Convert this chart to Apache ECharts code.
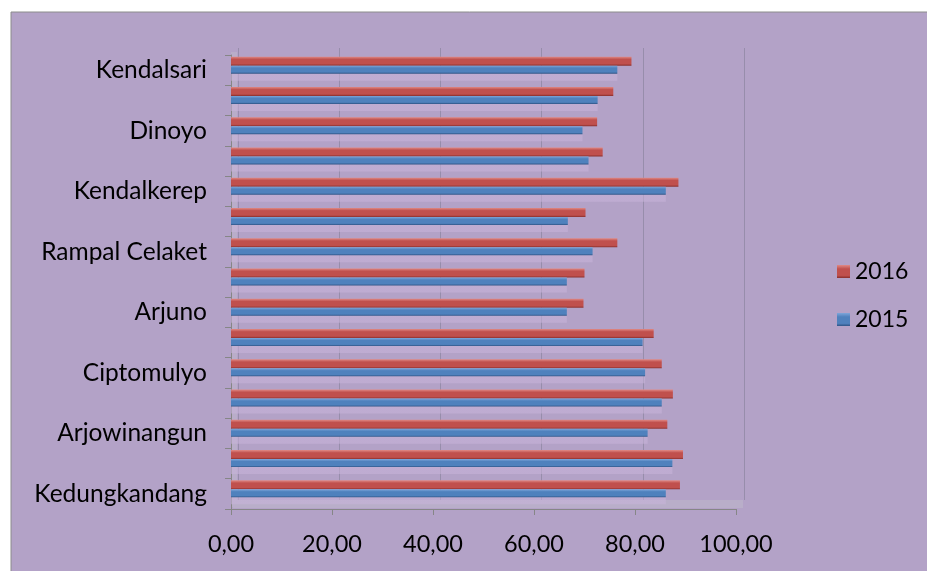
<!DOCTYPE html>
<html>
<head>
<meta charset="utf-8">
<script src="https://cdn.jsdelivr.net/npm/echarts@6/dist/echarts.min.js"></script>
<style>
  html, body { margin: 0; padding: 0; background: #ffffff; }
  #chart { width: 927px; height: 571px; }
</style>
</head>
<body>
<div id="chart"></div>
<script>
// Puskesmas, bottom to top
const categories = [
  'Kedungkandang', 'Gribig', 'Arjowinangun', 'Janti', 'Ciptomulyo',
  'Mulyorejo', 'Arjuno', 'Bareng', 'Rampal Celaket', 'Cisadea',
  'Kendalkerep', 'Pandanwangi', 'Dinoyo', 'Mojolangu', 'Kendalsari'
];
const values2015 = [86.1, 87.4, 82.5, 85.3, 82.0, 81.5, 66.5, 66.5, 71.6, 66.7, 86.1, 70.8, 69.6, 72.6, 76.5];
const values2016 = [88.9, 89.5, 86.4, 87.5, 85.3, 83.7, 69.8, 70.0, 76.5, 70.2, 88.6, 73.6, 72.5, 75.7, 79.3];
const seriesNames = ['2016', '2015'];
const xTicks = { min: 0, max: 100, interval: 20 };

const FONT = 'Lato, "Open Sans", sans-serif';

function shade(top, mid, bottom) {
  return new echarts.graphic.LinearGradient(0, 0, 0, 1, [
    { offset: 0, color: top },
    { offset: 0.3, color: mid },
    { offset: 0.8, color: mid },
    { offset: 1, color: bottom }
  ]);
}

const chart = echarts.init(document.getElementById('chart'), null, { renderer: 'canvas' });

chart.setOption({
  backgroundColor: '#ffffff',
  animation: false,
  graphic: [{
    type: 'rect', z: -10, silent: true,
    shape: { x: 11, y: 12, width: 940, height: 600 },
    style: { fill: '#B3A2C7', stroke: '#8c8c8c', lineWidth: 1 }
  }],
  legend: {
    orient: 'vertical',
    left: 832, top: 254,
    itemWidth: 13, itemHeight: 13, itemGap: 23,
    data: seriesNames,
    icon: 'rect',
    textStyle: { fontFamily: FONT, fontSize: 23, color: '#000', lineHeight: 25 }
  },
  grid: [
    // front axes
    { left: 231, right: 191, top: 55, bottom: 62 },
    // bars, lifted slightly for the depth effect
    { left: 231, right: 191, top: 50, bottom: 67 },
    // back wall with gridlines
    { left: 238, right: 183, top: 48, bottom: 71 },
    // side wall
    { left: 231, width: 6, top: 52, bottom: 64, show: true, backgroundColor: '#b9adc9', borderWidth: 0 },
    // floor
    { left: 233, right: 184, top: 500, bottom: 63, show: true, backgroundColor: '#b9aec9', borderWidth: 0 }
  ],
  xAxis: [
    {
      gridIndex: 0, type: 'value', min: xTicks.min, max: xTicks.max, interval: xTicks.interval,
      axisLine: { show: true, lineStyle: { color: '#868686' } },
      axisTick: { show: true, length: 6, lineStyle: { color: '#868686' } },
      splitLine: { show: false },
      axisLabel: {
        margin: 23, color: '#000', fontFamily: FONT, fontSize: 23.5,
        formatter: v => v.toFixed(2).replace('.', ',')
      }
    },
    { gridIndex: 1, type: 'value', min: xTicks.min, max: xTicks.max, interval: xTicks.interval, show: false },
    {
      gridIndex: 2, type: 'value', min: xTicks.min, max: xTicks.max, interval: xTicks.interval,
      axisLine: { show: false }, axisTick: { show: false }, axisLabel: { show: false },
      splitLine: { show: true, lineStyle: { color: '#978dab', width: 1 } }
    },
    { gridIndex: 3, type: 'value', show: false },
    { gridIndex: 4, type: 'value', show: false }
  ],
  yAxis: [
    {
      gridIndex: 0, type: 'category', data: categories,
      axisLine: { show: true, lineStyle: { color: '#868686' } },
      axisTick: { show: true, length: 6, interval: 0, lineStyle: { color: '#868686' } },
      axisLabel: { interval: 1, margin: 24, color: '#000', fontFamily: FONT, fontSize: 24.5 }
    },
    { gridIndex: 1, type: 'category', data: categories, show: false },
    { gridIndex: 2, type: 'category', data: categories, show: false },
    { gridIndex: 3, type: 'category', show: false },
    { gridIndex: 4, type: 'category', show: false }
  ],
  series: [
    {
      name: seriesNames[0], type: 'bar', xAxisIndex: 1, yAxisIndex: 1,
      data: values2016, barWidth: 9, barGap: '0%',
      itemStyle: { color: shade('#e08a86', '#C0504D', '#8a2f2c') }
    },
    {
      name: seriesNames[1], type: 'bar', xAxisIndex: 1, yAxisIndex: 1,
      data: values2015, barWidth: 8, barGap: '0%',
      itemStyle: {
        color: shade('#7ea6da', '#4F81BD', '#2f5486'),
        shadowColor: 'rgba(200,180,218,0.55)', shadowOffsetY: 7, shadowBlur: 0
      }
    }
  ]
});
</script>
</body>
</html>
